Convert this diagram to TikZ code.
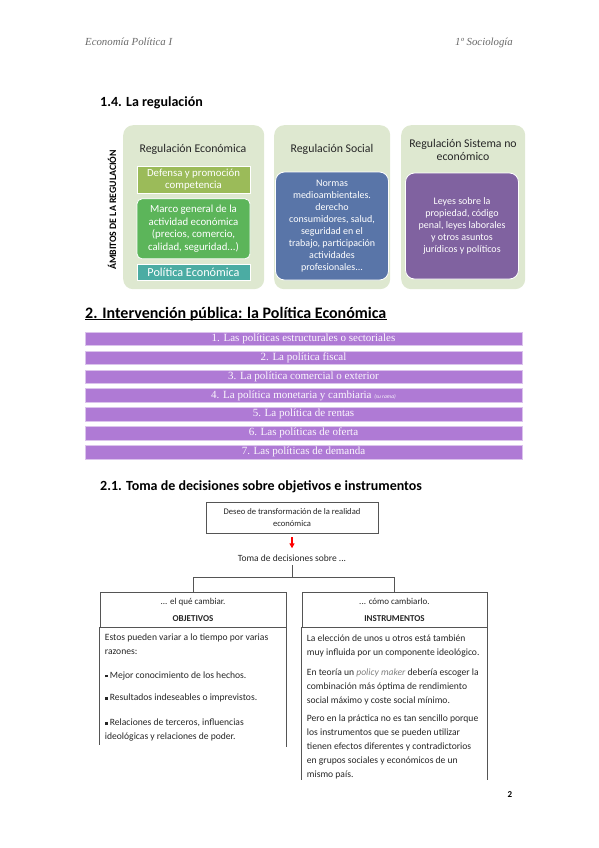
\documentclass[tikz,border=0pt]{standalone}
\usepackage{fontspec}
\setmainfont{Liberation Serif}
\newfontfamily\calibri{Carlito}
\usetikzlibrary{arrows.meta, positioning, calc}
\definecolor{salvia}{RGB}{222,232,208}
\definecolor{oliva}{RGB}{155,187,89}
\definecolor{verdeM}{RGB}{92,181,90}
\definecolor{turquesa}{RGB}{75,172,163}
\definecolor{azulS}{RGB}{89,117,168}
\definecolor{moradoS}{RGB}{128,98,160}
\definecolor{lila}{RGB}{175,122,213}
\definecolor{grisEnc}{RGB}{105,105,105}
\definecolor{grisLinea}{RGB}{85,85,85}
\newcommand{\cuadrito}{\raisebox{0.7pt}{\rule{2.8pt}{2.8pt}}}
\tikzset{
  panel/.style={fill=salvia, rounded corners=10pt, minimum height=164pt,
    anchor=north west, inner sep=0pt},
  tituloPanel/.style={font=\calibri\fontsize{11.8}{13}\selectfont, align=center, text=black!85},
  caja/.style={draw=white, line width=0.8pt, text=white, align=center,
    font=\calibri\fontsize{10}{12}\selectfont, inner sep=0pt, minimum width=113pt},
  cajaOliva/.style={caja, fill=oliva, minimum height=27pt, font=\calibri\fontsize{10.8}{12.2}\selectfont},
  cajaVerde/.style={caja, fill=verdeM, rounded corners=5pt, minimum height=60pt,
    font=\calibri\fontsize{10.8}{12.6}\selectfont},
  cajaTurq/.style={caja, fill=turquesa, minimum height=16pt, font=\calibri\fontsize{12.2}{13}\selectfont},
  cajaAzul/.style={caja, fill=azulS, rounded corners=9pt, minimum height=108pt},
  cajaMorado/.style={caja, fill=moradoS, rounded corners=9pt, minimum height=106pt},
  seccion/.style={font=\calibri\bfseries\fontsize{14}{16}\selectfont, anchor=base west, inner sep=0pt},
  barra/.style={fill=lila, draw=lila!45!white, line width=0.5pt, minimum width=437pt,
    minimum height=13.5pt, inner sep=0pt, text=white!95!lila,
    font=\fontsize{11}{12}\selectfont},
  cabecera/.style={draw=grisLinea, line width=0.6pt, minimum height=35pt, align=center,
    inner sep=0pt, text=black!85, font=\calibri\fontsize{9}{17}\selectfont},
  cuerpo/.style={align=left, inner sep=0pt, text=black!85,
    font=\calibri\fontsize{9.6}{14}\selectfont,
    execute at begin node=\strut, execute at end node=\strut},
  rama/.style={draw=grisLinea, line width=0.6pt},
  flecha/.style={-{Triangle[length=5pt, width=5pt]}, red, line width=1.2pt},
}

\begin{document}
\begin{tikzpicture}[x=1pt, y=-1pt]
  \useasboundingbox (0,0) rectangle (599,848);

  % encabezado de pagina
  \node[anchor=base west, inner sep=0pt, text=grisEnc, font=\itshape\fontsize{10.8}{12}\selectfont]
    (encIzq) at (85,46) {Economía Política I};
  \node[anchor=base west, inner sep=0pt, text=grisEnc, font=\itshape\fontsize{10.8}{12}\selectfont]
    (encDer) at (455,46) {1º Sociología};

  % 1.4 La regulacion
  \node[seccion] (sec14) at (100,107) {1.4. La regulación};

  \node[panel, minimum width=141pt] (panEco) at (123,125) {};
  \node[panel, minimum width=116pt] (panSoc) at (274,125) {};
  \node[panel, minimum width=124pt] (panSis) at (401,125) {};

  \node[rotate=90, font=\calibri\bfseries\fontsize{9.8}{11}\selectfont] (ambitos) at (112,210)
    {ÁMBITOS DE LA REGULACIÓN};

  \node[tituloPanel] (tEco) at (193,149) {Regulación Económica};
  \node[tituloPanel] (tSoc) at (332,149) {Regulación Social};
  \node[tituloPanel] (tSis) at (463,149.5) {Regulación Sistema no\\económico};

  \node[cajaOliva] (oliva) at (193.5,179.5) {Defensa y promoción\\competencia};
  \node[cajaVerde, below=5pt of oliva] (marco)
    {Marco general de la\\actividad económica\\(precios, comercio,\\calidad, seguridad...)};
  \node[cajaTurq, below=5pt of marco] (polEco) {Política Económica};

  \node[cajaAzul] (social) at (332,226)
    {Normas\\medioambientales.\\derecho\\consumidores, salud,\\seguridad en el\\trabajo, participación\\actividades\\profesionales...};
  \node[cajaMorado] (sistema) at (462,226)
    {Leyes sobre la\\propiedad, código\\penal, leyes laborales\\y otros asuntos\\jurídicos y políticos};

  % 2. Intervencion publica
  \node[seccion, font=\calibri\bfseries\fontsize{16}{18}\selectfont] (sec2) at (85,318)
    {2. Intervención pública: la Política Económica};
  \draw[line width=0.8pt] ($(sec2.base west)+(0,1.6)$) -- ($(sec2.base east)+(0,1.6)$);

  \foreach \txt [count=\i] in {1. Las políticas estructurales o sectoriales,
      2. La política fiscal, 3. La política comercial o exterior,
      {4. La política monetaria y cambiaria {\calibri\itshape\fontsize{5.5}{6}\selectfont(su rama)}},
      5. La política de rentas, 6. Las políticas de oferta, 7. Las políticas de demanda}
    \node[barra] (bar\i) at (303.5,{338.75+(\i-1)*18.875}) {\txt};

  % 2.1 Toma de decisiones
  \node[seccion] (sec21) at (100,490) {2.1. Toma de decisiones sobre objetivos e instrumentos};

  \node[draw=grisLinea, line width=0.6pt, minimum width=172pt, minimum height=31pt,
    align=center, text=black!85, font=\calibri\fontsize{8.6}{12}\selectfont] (deseo) at (292,517.5)
    {Deseo de transformación de la realidad\\económica};
  \node[text=black!85, font=\calibri\fontsize{9.5}{10}\selectfont, below=18pt of deseo] (toma)
    {Toma de decisiones sobre ...};
  \draw[flecha, shorten <=4pt, shorten >=3pt] (deseo) -- (toma);
  \draw[rama] (toma.south) -- ++(0,12.5) coordinate (cruce);

  \node[cabecera, minimum width=186pt] (objH) at (193,609.5) {... el qué cambiar.\\\textbf{OBJETIVOS}};
  \node[cabecera, minimum width=185pt] (insH) at (394.5,609.5) {... cómo cambiarlo.\\\textbf{INSTRUMENTOS}};
  \draw[rama] (objH.north) |- (cruce) -| (insH.north);

  \draw[rama] (objH.south west) -- ++(0,118);
  \draw[rama] (objH.south east) -- ++(0,120);
  \draw[rama] (insH.south west) -- ++(0,153);
  \draw[rama] (insH.south east) -- ++(0,153);

  \node[cuerpo, below right=6.5pt and 5pt of objH.south west] (obj1)
    {Estos pueden variar a lo tiempo por varias\\razones:};
  \node[cuerpo, below right=9pt and 0pt of obj1.south west] (obj2)
    {\cuadrito\ Mejor conocimiento de los hechos.};
  \node[cuerpo, below right=8pt and 0pt of obj2.south west] (obj3)
    {\cuadrito\ Resultados indeseables o imprevistos.};
  \node[cuerpo, below right=14pt and 0pt of obj3.south west] (obj4)
    {\cuadrito\ Relaciones de terceros, influencias\\ideológicas y relaciones de poder.};

  \node[cuerpo, below right=7pt and 5pt of insH.south west] (ins1)
    {La elección de unos u otros está también\\muy influida por un componente ideológico.};
  \node[cuerpo, below right=9.5pt and 0pt of ins1.south west] (ins2)
    {En teoría un {\itshape\color{gray}policy maker} debería escoger la\\combinación más óptima de rendimiento\\social máximo y coste social mínimo.};
  \node[cuerpo, below right=6.5pt and 0pt of ins2.south west] (ins3)
    {Pero en la práctica no es tan sencillo porque\\los instrumentos que se pueden utilizar\\tienen efectos diferentes y contradictorios\\en grupos sociales y económicos de un\\mismo país.};

  \node[font=\calibri\bfseries\fontsize{9}{10}\selectfont] (pagina) at (510,795) {2};
\end{tikzpicture}
\end{document}
